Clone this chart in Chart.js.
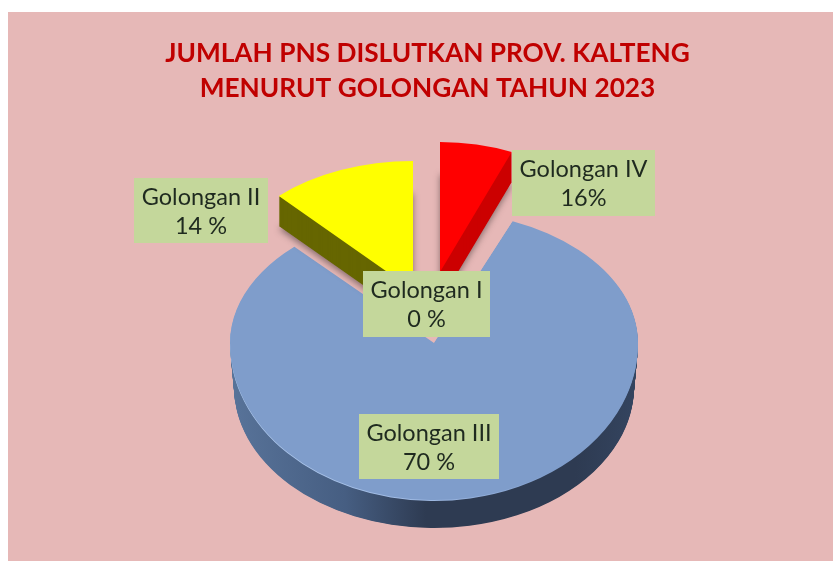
<!DOCTYPE html>
<html>
<head>
<meta charset="utf-8">
<style>html,body{margin:0;padding:0;background:#fff}canvas{display:block}</style>
<script src="https://cdn.jsdelivr.net/npm/chart.js@4/dist/chart.umd.min.js"></script>
</head>
<body>
<canvas id="c" width="833" height="561"></canvas>
<script>
// Clockwise from 12 o'clock, as in the picture.
const categories = ['Golongan IV', 'Golongan III', 'Golongan II', 'Golongan I'];
// Percentages printed on the labels.
const printedPercent = ['16%', '70 %', '14 %', '0 %'];
// Slice sizes as drawn in the picture, which differ from the printed labels.
const drawnShare = [6.3, 81.7, 12.0, 0];
const titleLines = ['JUMLAH PNS DISLUTKAN PROV. KALTENG', 'MENURUT GOLONGAN TAHUN 2023'];

const topColors = ['#FF0000', '#7F9DCB', '#FFFF00', '#92D050'];
const sideColors = ['#CC0000', null, '#666600', '#92D050'];

// 3D look: apex position and ellipse radii of each exploded slice.
// drop / rxEnd / nearEnd describe the underside, seen in perspective.
const sliceView = [
  { ax: 440, ay: 272, rx: 186, far: 130, near: 130, drop: 30, rxEnd: 186, nearEnd: 130 },
  { ax: 434, ay: 343, rx: 204, far: 132, near: 157, drop: 44, rxEnd: 200, nearEnd: 141 },
  { ax: 413, ay: 290, rx: 196, far: 129, near: 129, drop: 30, rxEnd: 196, nearEnd: 129 },
  null
];
// Label boxes: x, y, w, h.
const labelBoxes = [
  [512, 150, 143, 66],
  [359, 414, 140, 65],
  [134, 178, 134, 65],
  [363, 271, 127, 66]
];

function withFill(arc, color, draw) {
  const saved = arc.options;
  arc.options = Object.assign({}, saved, { backgroundColor: color, borderWidth: 0 });
  draw();
  arc.options = saved;
}

function paintSlice(ctx, arc, v, t, extraY) {
  const R = arc.outerRadius;
  const rx = v.rx + (v.rxEnd - v.rx) * t;
  const near = v.near + (v.nearEnd - v.near) * t;
  const far = v.far;
  const cy = v.ay + v.drop * t + (extraY || 0);
  const half = (ry, clipY, clipH) => {
    ctx.save();
    if (v.far !== v.near) {
      ctx.beginPath();
      ctx.rect(0, clipY, 833, clipH);
      ctx.clip();
    }
    ctx.translate(v.ax, cy);
    ctx.scale(rx / R, ry / R);
    ctx.translate(-arc.x, -arc.y);
    arc.draw(ctx);
    ctx.restore();
  };
  if (v.far === v.near) {
    half(far, 0, 561);
  } else {
    half(far, 0, cy + 0.5);
    half(near, cy, 561);
  }
}

const pie3d = {
  id: 'pie3d',
  beforeDraw(chart) {
    const ctx = chart.ctx;
    ctx.save();
    ctx.fillStyle = '#E6B8B7';
    ctx.fillRect(8, 12, 825, 549);
    ctx.restore();
  },
  beforeDatasetDraw(chart) {
    const ctx = chart.ctx;
    const arcs = chart.getDatasetMeta(0).data;
    [1, 2, 0].forEach(i => {
      const arc = arcs[i], v = sliceView[i];
      const x0 = arc.x - arc.outerRadius, x1 = arc.x + arc.outerRadius;
      let side = sideColors[i];
      if (!side) {
        const g = ctx.createLinearGradient(x0, 0, x1, 0);
        g.addColorStop(0, '#587399');
        g.addColorStop(0.28, '#465E82');
        g.addColorStop(0.48, '#2E3B52');
        g.addColorStop(0.85, '#2E3B52');
        g.addColorStop(1, '#34445F');
        side = g;
      }
      withFill(arc, side, () => {
        for (let d = v.drop; d >= 1; d--) {
          ctx.save();
          if (d === v.drop && v.far === v.near) {
            ctx.shadowColor = 'rgba(60,50,50,0.55)';
            ctx.shadowBlur = 6;
            ctx.shadowOffsetY = 3;
          }
          paintSlice(ctx, arc, v, d / v.drop);
          ctx.restore();
        }
      });
      if (v.far !== v.near) {
        // Thin light rim along the near edge of the big slice.
        const rim = ctx.createLinearGradient(x0, 0, x1, 0);
        rim.addColorStop(0, '#B0CAEE');
        rim.addColorStop(0.5, '#9DB8E2');
        rim.addColorStop(0.8, topColors[i]);
        rim.addColorStop(1, topColors[i]);
        withFill(arc, rim, () => paintSlice(ctx, arc, v, 0, 1));
      }
      paintSlice(ctx, arc, v, 0);
    });
    return false;
  },
  afterDatasetsDraw(chart) {
    const ctx = chart.ctx;
    ctx.save();
    ctx.textAlign = 'center';
    ctx.textBaseline = 'middle';
    ctx.font = '23.5px Lato';
    categories.forEach((name, i) => {
      const [x, y, w, h] = labelBoxes[i];
      ctx.fillStyle = '#C4D79B';
      ctx.fillRect(x, y, w, h);
      ctx.fillStyle = '#1F2A1F';
      ctx.fillText(name, x + w / 2, y + 19);
      ctx.fillText(printedPercent[i], x + w / 2, y + 48);
    });
    ctx.restore();
  }
};

new Chart(document.getElementById('c'), {
  type: 'pie',
  data: {
    labels: categories,
    datasets: [{ data: drawnShare, backgroundColor: topColors, borderWidth: 0 }]
  },
  options: {
    responsive: false,
    animation: false,
    layout: { padding: { left: 22, top: 0 } },
    plugins: {
      legend: { display: false },
      tooltip: { enabled: false },
      title: {
        display: true,
        text: titleLines,
        color: '#C00000',
        font: { family: 'Lato', size: 26.25, weight: 'bold', lineHeight: 1.33 },
        padding: { top: 36, bottom: 10 }
      }
    }
  },
  plugins: [pie3d]
});
</script>
</body>
</html>
